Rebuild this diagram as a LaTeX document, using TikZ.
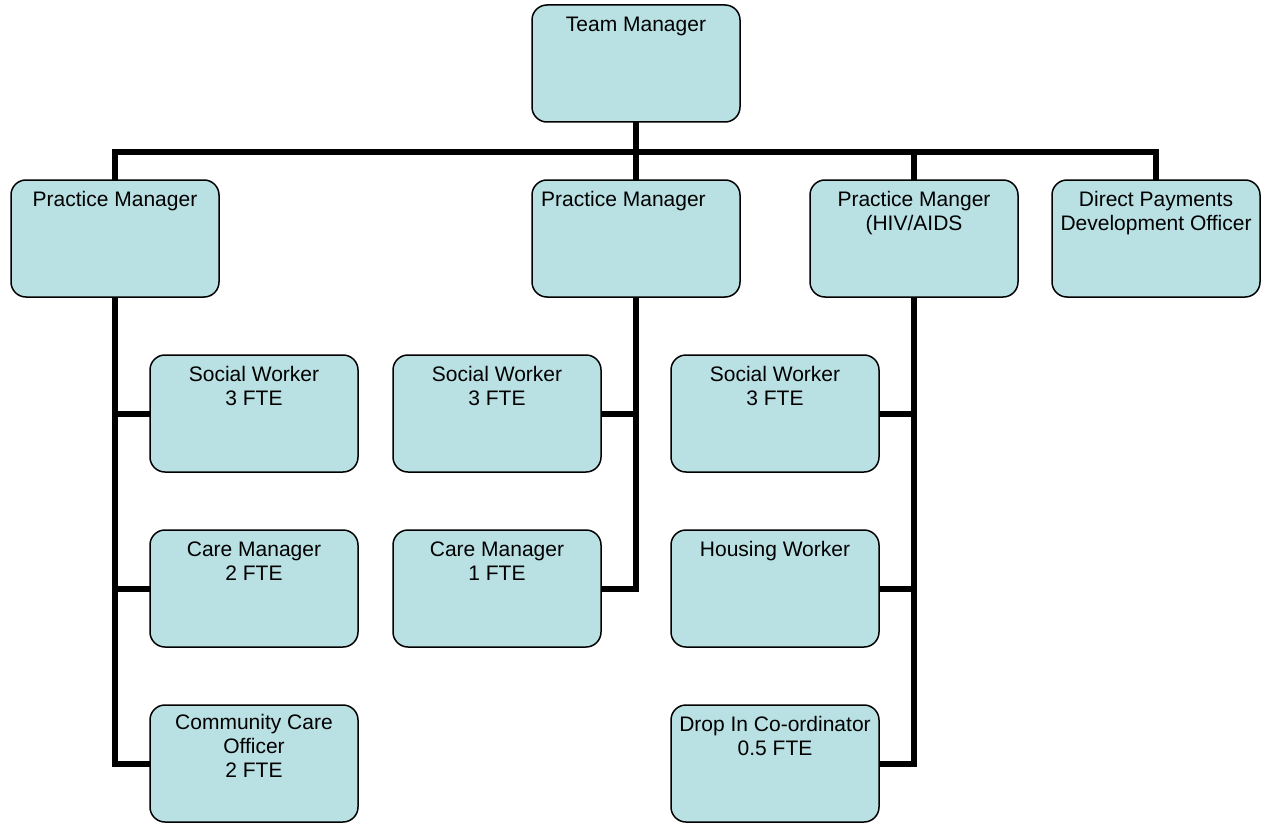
\documentclass[tikz,border=0pt]{standalone}
\usepackage{fontspec}
\setmainfont{Liberation Sans}
\usetikzlibrary{backgrounds}
\definecolor{boxblue}{RGB}{185,224,227}
\tikzset{
  box/.style={rectangle, rounded corners=15pt, draw=black, line width=1.5pt, fill=boxblue,
    minimum width=208pt, minimum height=117pt, inner sep=0pt, outer sep=0pt, anchor=north west},
  txt/.style={anchor=north, align=center, inner sep=0pt, font=\fontsize{21}{24}\selectfont},
  conn/.style={draw=black, line width=6pt, line join=miter}
}
\begin{document}
\begin{tikzpicture}[x=1pt,y=-1pt]
\useasboundingbox (0,0) rectangle (1271,832);
\coordinate (bus) at (0,152);
% boxes
\node[box] (tm)  at (532,5) {};
\node[box] (pm1) at (11,180) {};
\node[box] (pm2) at (532,180) {};
\node[box] (pm3) at (810,180) {};
\node[box] (dp)  at (1052,180) {};
\node[box] (sw1) at (150,355) {};
\node[box] (cm1) at (150,530) {};
\node[box] (cco) at (150,705) {};
\node[box] (sw2) at (393,355) {};
\node[box] (cm2) at (393,530) {};
\node[box] (sw3) at (671,355) {};
\node[box] (hw)  at (671,530) {};
\node[box] (di)  at (671,705) {};
% texts
\node[txt] (ttm)  at ([yshift=-9.2pt]tm.north)  {\strut Team Manager};
\node[txt] (tpm1) at ([yshift=-9.2pt]pm1.north) {\strut Practice Manager};
\node[txt, anchor=north west] (tpm2) at ([xshift=9pt,yshift=-9.2pt]pm2.north west) {\strut Practice Manager};
\node[txt] (tpm3) at ([yshift=-9.2pt]pm3.north) {\strut Practice Manger\\(HIV/AIDS};
\node[txt] (tdp)  at ([yshift=-9.2pt]dp.north)  {\strut Direct Payments\\Development Officer};
\node[txt] (tsw1) at ([yshift=-9.2pt]sw1.north) {\strut Social Worker\\3 FTE};
\node[txt] (tcm1) at ([yshift=-9.2pt]cm1.north) {\strut Care Manager\\2 FTE};
\node[txt] (tcco) at ([yshift=-7.2pt]cco.north) {\strut Community Care\\Officer\\2 FTE};
\node[txt] (tsw2) at ([yshift=-9.2pt]sw2.north) {\strut Social Worker\\3 FTE};
\node[txt] (tcm2) at ([yshift=-9.2pt]cm2.north) {\strut Care Manager\\1 FTE};
\node[txt] (tsw3) at ([yshift=-9.2pt]sw3.north) {\strut Social Worker\\3 FTE};
\node[txt] (thw)  at ([yshift=-9.2pt]hw.north)  {\strut Housing Worker};
\node[txt] (tdi)  at ([yshift=-9.2pt]di.north)  {\strut Drop In Co-ordinator\\0.5 FTE};
% connectors
\begin{scope}[on background layer]
\draw[conn] (tm.south) -- (tm.south |- bus);
\draw[conn] (pm1.north) -- (pm1.north |- bus) -- (dp.north |- bus) -- (dp.north);
\draw[conn] (pm2.north |- bus) -- (pm2.north);
\draw[conn] (pm3.north |- bus) -- (pm3.north);
\draw[conn] (pm1.south) |- (sw1.west);
\draw[conn] (pm1.south) |- (cm1.west);
\draw[conn] (pm1.south) |- (cco.west);
\draw[conn] (pm2.south) |- (sw2.east);
\draw[conn] (pm2.south) |- (cm2.east);
\draw[conn] (pm3.south) |- (sw3.east);
\draw[conn] (pm3.south) |- (hw.east);
\draw[conn] (pm3.south) |- (di.east);
\end{scope}
\end{tikzpicture}
\end{document}
